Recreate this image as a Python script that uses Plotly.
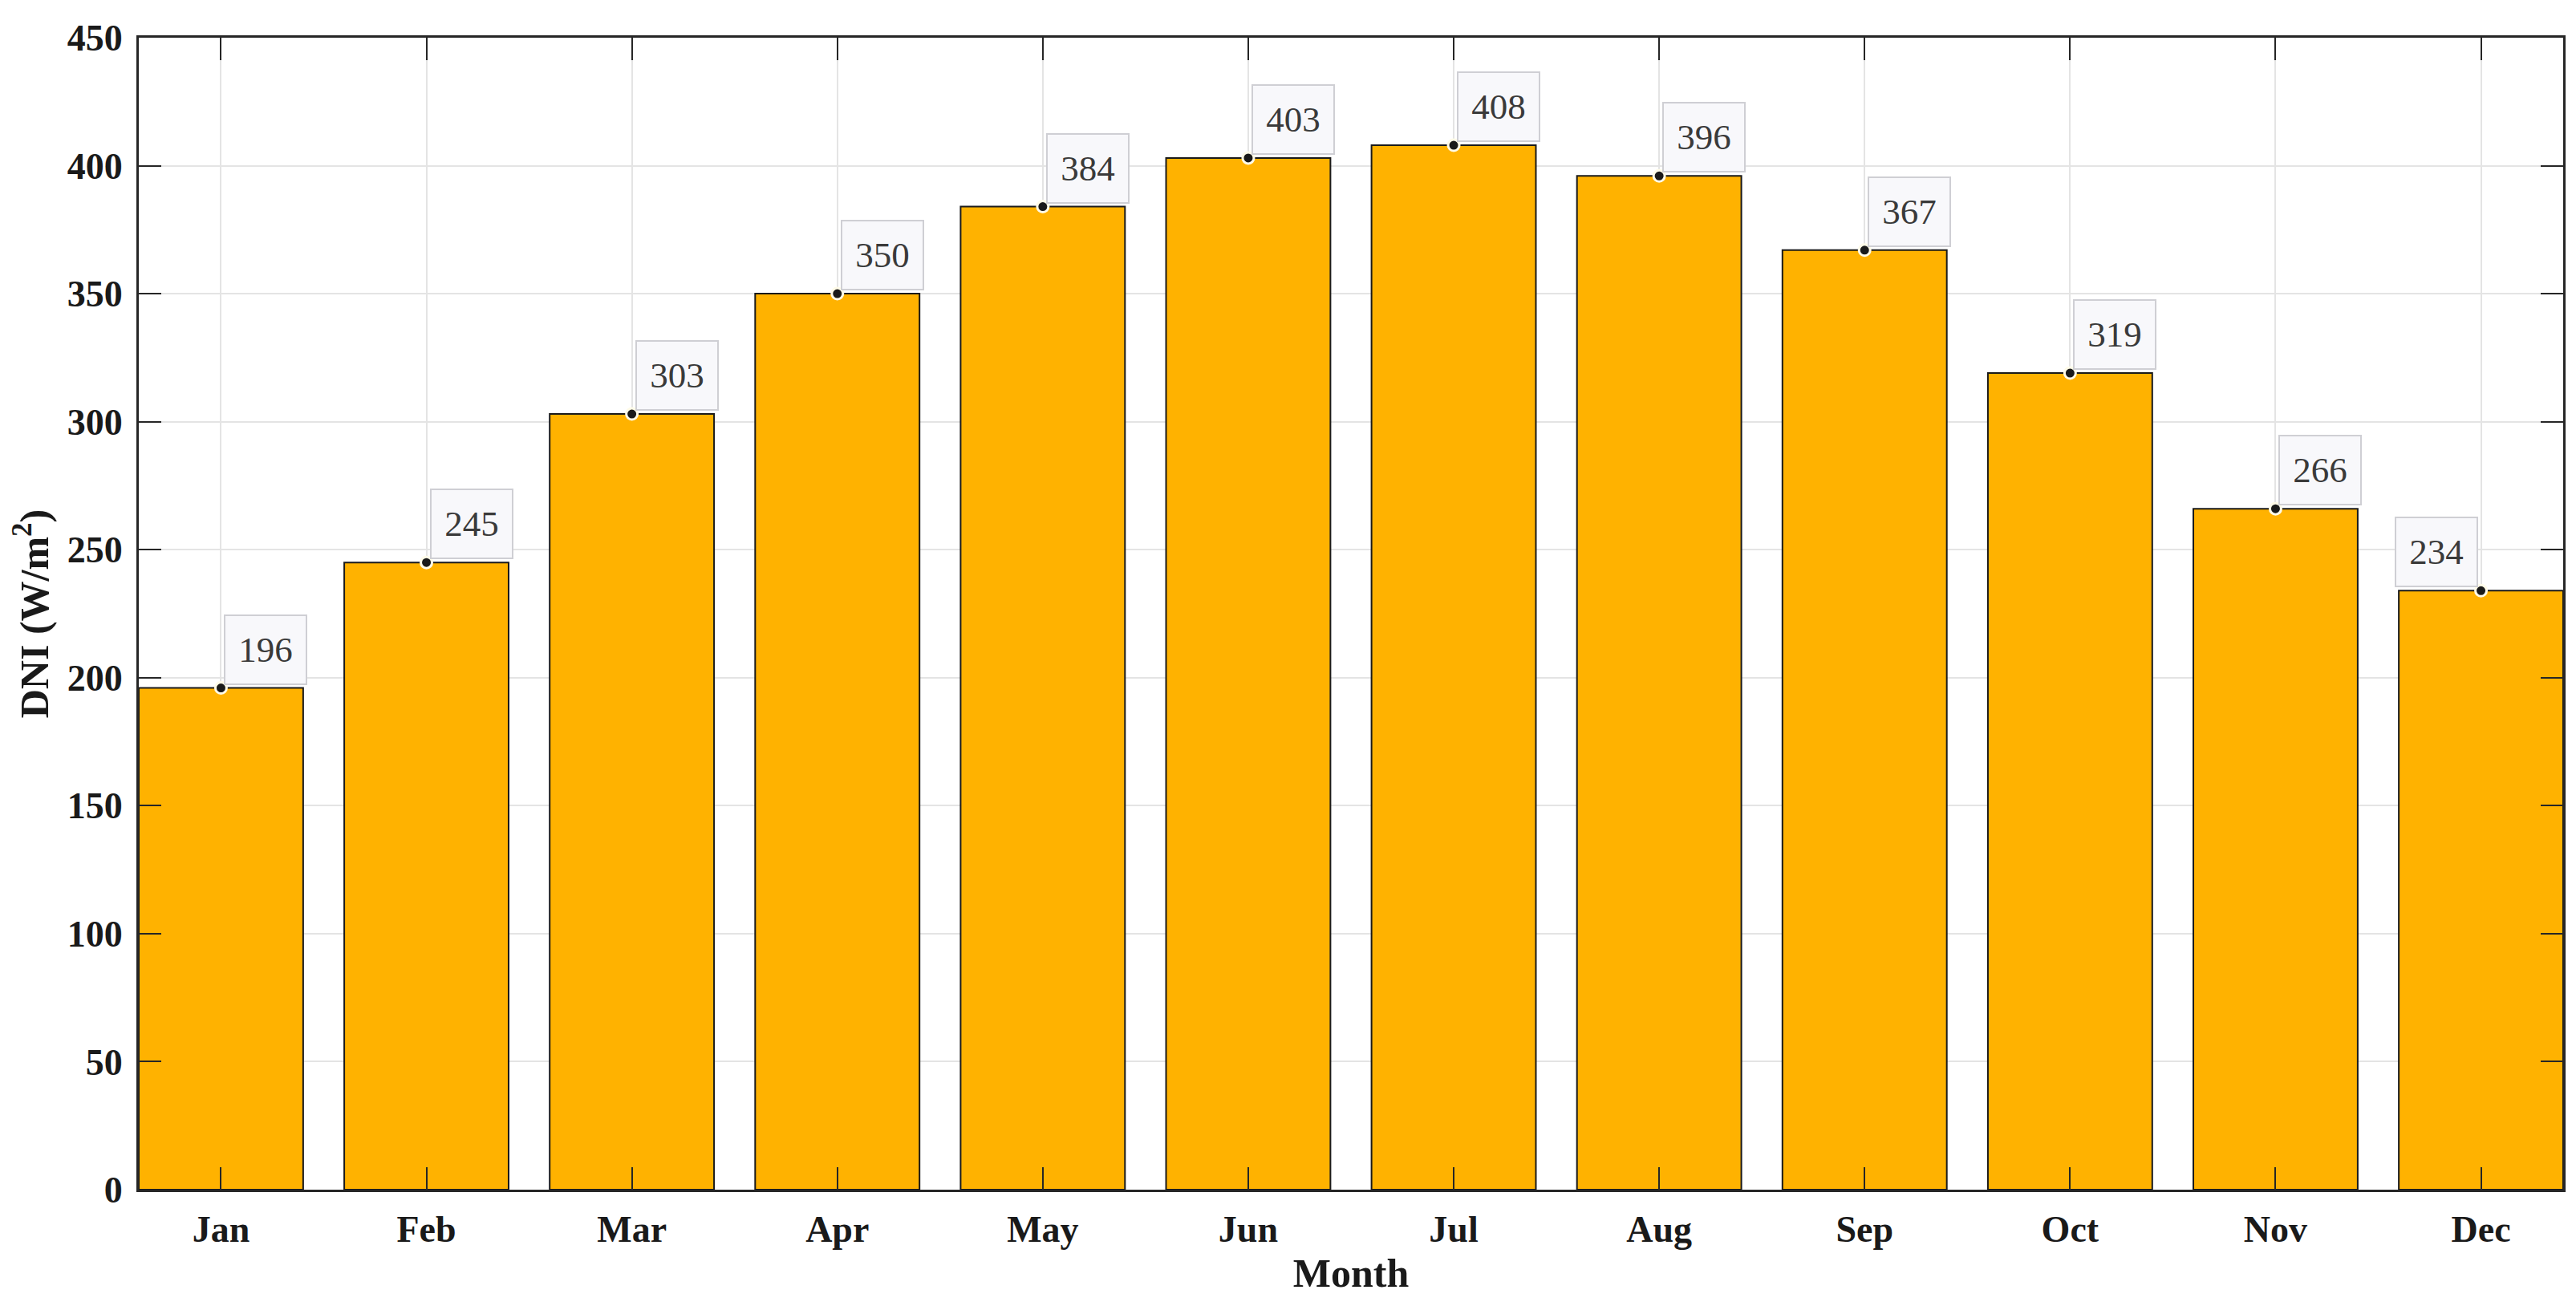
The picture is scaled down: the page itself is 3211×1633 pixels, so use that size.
import plotly.graph_objects as go

months = ["Jan", "Feb", "Mar", "Apr", "May", "Jun", "Jul", "Aug", "Sep", "Oct", "Nov", "Dec"]
dni = [196, 245, 303, 350, 384, 403, 408, 396, 367, 319, 266, 234]
y_ticks = [0, 50, 100, 150, 200, 250, 300, 350, 400, 450]

SERIF = "Liberation Serif, Times New Roman, serif"
AXIS_COLOR = "#262626"
TEXT_COLOR = "#1a1a1a"

fig = go.Figure()
fig.add_trace(go.Bar(
    x=months, y=dni,
    marker=dict(color="#FFB200", line=dict(color="#1a1a1a", width=2)),
    width=0.8,
    hoverinfo="skip",
))
fig.add_trace(go.Scatter(
    x=months, y=dni, mode="markers",
    marker=dict(color="#1a1a1a", size=14, line=dict(color="#fffbe8", width=3)),
    hoverinfo="skip", cliponaxis=False,
))

annotations = []
n = len(months)
for i, (m, v) in enumerate(zip(months, dni)):
    last = i == n - 1
    annotations.append(dict(
        x=m, y=v, xref="x", yref="y",
        text=str(v), showarrow=False,
        xanchor="right" if last else "left", yanchor="bottom",
        xshift=-4 if last else 4, yshift=4,
        font=dict(family=SERIF, size=45, color="#3a3a3a"),
        bgcolor="#f8f8fb", bordercolor="#cfcfd4", borderwidth=2, borderpad=14,
        width=72, height=56,
    ))

fig.update_layout(
    width=3195, height=1617,
    paper_bgcolor="white", plot_bgcolor="white",
    margin=dict(l=165, r=8, t=39, b=142, autoexpand=False),
    showlegend=False,
    annotations=annotations,
    font=dict(family=SERIF, color=AXIS_COLOR),
)
fig.update_xaxes(
    type="category", range=[-0.4, 11.4],
    showline=True, linecolor=AXIS_COLOR, linewidth=3, mirror="ticks",
    ticks="inside", ticklen=28, tickwidth=2, tickcolor=AXIS_COLOR,
    showgrid=True, gridcolor="#e4e4e4", gridwidth=2,
    tickfont=dict(family=SERIF, size=46, color=TEXT_COLOR),
    tickprefix="<b>", ticksuffix="</b>",
    ticklabelstandoff=7,
    title=dict(text="<b>Month</b>", font=dict(family=SERIF, size=50, color=TEXT_COLOR), standoff=12),
    zeroline=False, automargin=False,
)
fig.update_yaxes(
    range=[0, 450], tickvals=y_ticks,
    ticktext=[f"<b>{t}</b>" for t in y_ticks],
    showline=True, linecolor=AXIS_COLOR, linewidth=3, mirror="ticks",
    ticks="inside", ticklen=28, tickwidth=2, tickcolor=AXIS_COLOR,
    showgrid=True, gridcolor="#e4e4e4", gridwidth=2,
    tickfont=dict(family=SERIF, size=46, color=TEXT_COLOR),
    ticklabelstandoff=8,
    title=dict(text="<b>DNI (W/m<sup>2</sup>)</b>", font=dict(family=SERIF, size=50, color=TEXT_COLOR), standoff=8),
    zeroline=False, automargin=False,
)

fig.write_html("out.html")
